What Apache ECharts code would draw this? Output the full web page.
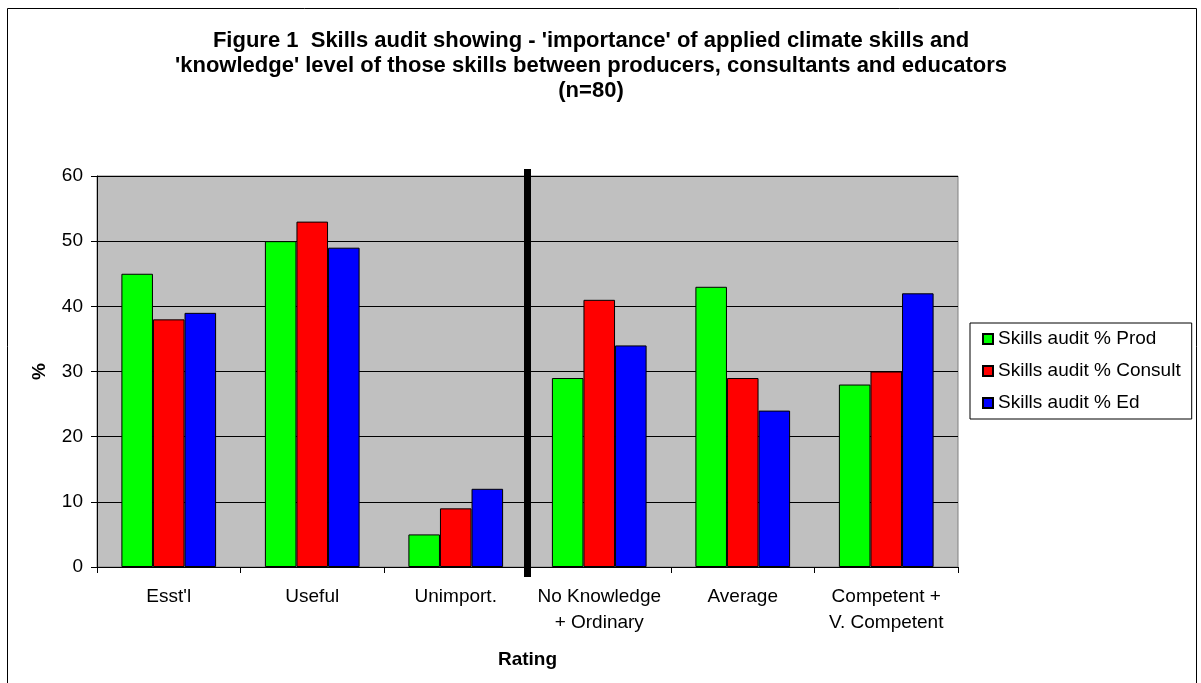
<!DOCTYPE html>
<html>
<head>
<meta charset="utf-8">
<script src="https://cdn.jsdelivr.net/npm/echarts@6/dist/echarts.min.js"></script>
<style>
html,body{margin:0;padding:0;background:#fff;}
#chart{width:1201px;height:683px;}
</style>
</head>
<body>
<div id="chart"></div>
<script>
const categories = ["Esst'l", "Useful", "Unimport.", "No Knowledge\n+ Ordinary", "Average", "Competent +\nV. Competent"];
const seriesNames = ["Skills audit % Prod", "Skills audit % Consult", "Skills audit % Ed"];
const prodValues = [45, 50, 5, 29, 43, 28];
const consultValues = [38, 53, 9, 41, 29, 30];
const edValues = [39, 49, 12, 34, 24, 42];
const yTicks = [0, 10, 20, 30, 40, 50, 60];
const titleLines = [
  "Figure 1  Skills audit showing - 'importance' of applied climate skills and",
  "'knowledge' level of those skills between producers, consultants and educators",
  "(n=80)"
];

const FONT = "Liberation Sans, Arial, sans-serif";
const colors = ['#00FF00', '#FF0000', '#0000FF'];
const seriesData = [prodValues, consultValues, edValues];

const chart = echarts.init(document.getElementById('chart'), null, {renderer: 'canvas'});
const option = {
  animation: false,
  backgroundColor: '#ffffff',
  title: {
    text: titleLines.join('\n'),
    left: 586, top: 23, textAlign: 'center',
    textStyle: {fontFamily: FONT, fontWeight: 'bold', fontSize: 22, lineHeight: 25, color: '#000'}
  },
  legend: {
    orient: 'vertical',
    left: 970, top: 323,
    padding: [6, 11, 6, 12],
    itemWidth: 10, itemHeight: 10, itemGap: 12,
    borderColor: '#000', borderWidth: 1,
    icon: 'rect',
    textStyle: {fontFamily: FONT, fontSize: 19, color: '#000', lineHeight: 20},
    data: seriesNames
  },
  grid: {
    left: 97, top: 176, right: 243, bottom: 116,
    show: true, backgroundColor: '#C0C0C0', borderColor: '#808080', borderWidth: 1,
    containLabel: false
  },
  xAxis: {
    type: 'category',
    data: categories,
    name: 'Rating',
    nameLocation: 'middle',
    nameGap: 83,
    nameTextStyle: {fontFamily: FONT, fontWeight: 'bold', fontSize: 19, color: '#000'},
    axisLine: {lineStyle: {color: '#000', width: 1}},
    axisTick: {show: true, length: 6, inside: false, lineStyle: {color: '#000'}},
    axisLabel: {fontFamily: FONT, fontSize: 19, color: '#000', margin: 17, lineHeight: 26, interval: 0},
    splitLine: {show: false}
  },
  yAxis: {
    type: 'value',
    min: 0, max: 60, interval: 10,
    name: '%',
    nameLocation: 'middle',
    nameGap: 48,
    nameRotate: 90,
    nameTextStyle: {fontFamily: FONT, fontWeight: 'bold', fontSize: 19, color: '#000'},
    axisLine: {show: true, lineStyle: {color: '#000', width: 1}},
    axisTick: {show: true, length: 6, lineStyle: {color: '#000'}},
    axisLabel: {fontFamily: FONT, fontSize: 19, color: '#000', margin: 14,
      formatter: v => yTicks.includes(v) ? String(v) : ''},
    splitLine: {show: true, lineStyle: {color: '#000', width: 1}}
  },
  series: seriesNames.map((name, i) => ({
    name: name,
    type: 'bar',
    data: seriesData[i],
    barGap: '0%',
    barCategoryGap: '34%',
    itemStyle: {color: colors[i], borderColor: '#000', borderWidth: 1}
  }))
};
chart.setOption(option);

// vertical divider between importance and knowledge categories
const c2 = chart.convertToPixel({xAxisIndex: 0}, categories[2]);
const c3 = chart.convertToPixel({xAxisIndex: 0}, categories[3]);
const yTop = chart.convertToPixel({yAxisIndex: 0}, 60);
const yBot = chart.convertToPixel({yAxisIndex: 0}, 0);
const divX = (c2 + c3) / 2;
chart.setOption({
  graphic: [
    {type: 'rect', shape: {x: divX - 3.5, y: yTop - 7, width: 7, height: (yBot - yTop) + 17},
     style: {fill: '#000'}, z: 100},
    {type: 'rect', shape: {x: 7.5, y: 8.5, width: 1189, height: 690},
     style: {fill: 'none', stroke: '#000', lineWidth: 1}, z: 100, silent: true}
  ]
});
</script>
</body>
</html>
